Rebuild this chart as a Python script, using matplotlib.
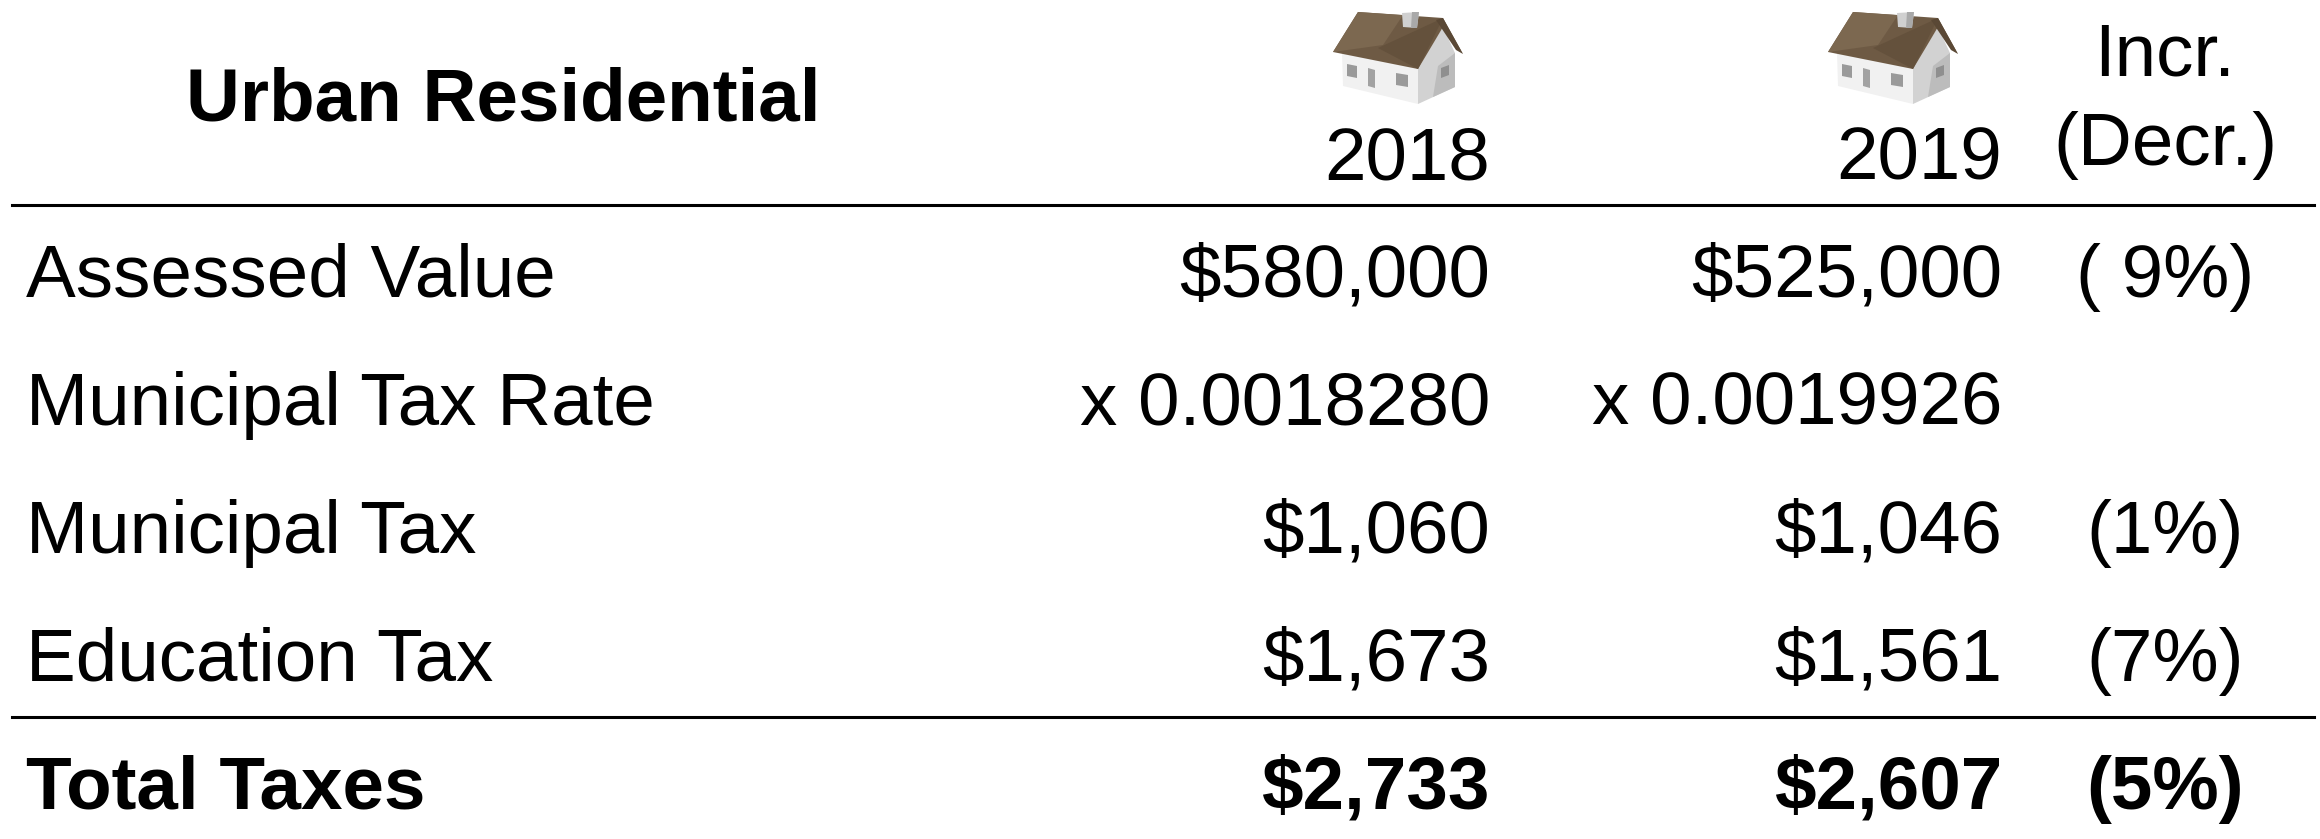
import matplotlib
matplotlib.use("Agg")
import matplotlib.pyplot as plt
from matplotlib.patches import Polygon

plt.rcParams['font.family'] = ['Liberation Sans', 'DejaVu Sans']

W, H = 2320, 839
title = "Urban Residential"
columns = ["2018", "2019"]
change_header = ["Incr.", "(Decr.)"]
rows = ["Assessed Value", "Municipal Tax Rate", "Municipal Tax", "Education Tax", "Total Taxes"]
values_2018 = ["$580,000", "x 0.0018280", "$1,060", "$1,673", "$2,733"]
values_2019 = ["$525,000", "x 0.0019926", "$1,046", "$1,561", "$2,607"]
changes = ["( 9%)", "", "(1%)", "(7%)", "(5%)"]

fig = plt.figure(figsize=(W / 100, H / 100), dpi=100)
ax = fig.add_axes([0, 0, 1, 1])
ax.set_xlim(0, W)
ax.set_ylim(H, 0)
ax.axis("off")

FS = 53.7
row_y = [277, 405, 533, 661, 789]


def house(x0):
    """Small decorative house icon, drawn from its left edge x0."""
    def poly(points, color, z=2):
        ax.add_patch(Polygon([[x0 + a, b] for a, b in points], fc=color, ec="none", zorder=z))
    poly([[9, 52], [85, 66], [85, 104], [10, 86]], "#f1f1f1")
    poly([[85, 66], [110, 27], [122, 53], [122, 87], [85, 104]], "#d2d2d2")
    poly([[105, 66], [122, 53], [122, 87], [100, 97]], "#bcbcbc")
    poly([[25, 12], [110, 18], [130, 54], [110, 27], [85, 69], [0, 52]], "#6e5a44", 3)
    poly([[25, 12], [70, 15], [50, 45], [0, 52]], "#7c6850", 3)
    poly([[45, 48], [110, 18], [85, 69]], "#64513c", 3)
    poly([[103, 20], [110, 18], [130, 54], [123, 50]], "#5a4835", 3)
    poly([[69, 13], [86, 12], [84, 28], [70, 27]], "#d0d0d0", 4)
    poly([[79, 12], [86, 12], [84, 28], [78, 28]], "#a9a9a9", 4)
    poly([[14, 64], [24, 66], [24, 78], [14, 76]], "#9a9a9a", 4)
    poly([[35, 68], [42, 70], [42, 88], [35, 86]], "#a2a2a2", 4)
    poly([[63, 73], [75, 75], [75, 87], [63, 85]], "#9a9a9a", 4)
    poly([[108, 68], [116, 65], [116, 75], [108, 78]], "#8f8f8f", 4)


house(1333)
house(1828)

ax.text(186, 101, title, fontsize=FS, fontweight="bold", va="center", ha="left")
ax.text(1490, 160, columns[0], fontsize=FS, va="center", ha="right")
ax.text(2002, 160, columns[1], fontsize=FS, va="center", ha="right")
ax.text(2165, 56, change_header[0], fontsize=FS, va="center", ha="center")
ax.text(2165, 145, change_header[1], fontsize=FS, va="center", ha="center")

ax.plot([12, 2314], [205, 205], color="black", lw=2.2)
ax.plot([12, 2314], [717, 717], color="black", lw=2.2)

for i, y in enumerate(row_y):
    w = "bold" if i == 4 else "normal"
    ax.text(26, y, rows[i], fontsize=FS, fontweight=w, va="center", ha="left")
    ax.text(1490, y, values_2018[i], fontsize=FS, fontweight=w, va="center", ha="right")
    ax.text(2002, y, values_2019[i], fontsize=FS, fontweight=w, va="center", ha="right")
    ax.text(2165, y, changes[i], fontsize=FS, fontweight=w, va="center", ha="center")

fig.savefig("out.png", dpi=100)
